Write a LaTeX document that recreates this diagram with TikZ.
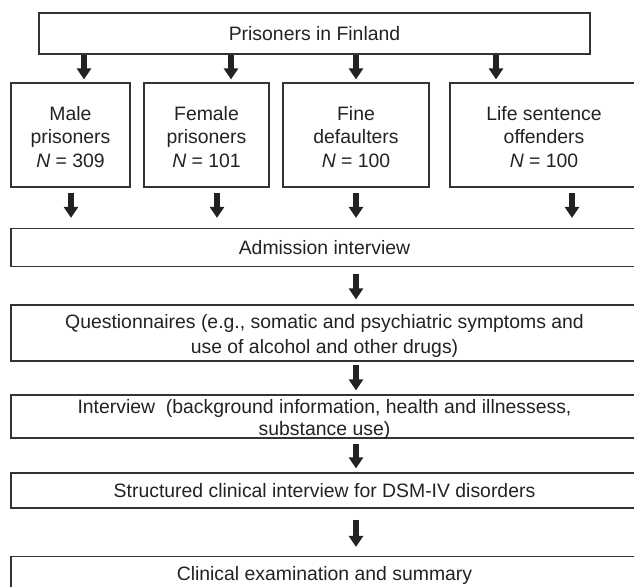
\documentclass[tikz,border=0pt]{standalone}
\usepackage{fontspec}
\setmainfont{Liberation Sans}
\usetikzlibrary{arrows.meta}
\definecolor{ink}{HTML}{222222}
\definecolor{edge}{HTML}{333333}
\begin{document}
\begin{tikzpicture}[x=1pt,y=-1pt,
  box/.style={draw=edge,line width=1.2pt,inner sep=0pt,align=center,text=ink,
    font=\fontsize{19.4}{23.5}\selectfont},
  txt/.style={inner sep=0pt,align=center,text=ink,font=\fontsize{19.4}{23.5}\selectfont},
  arr/.style={draw=ink,line width=6pt,-{Triangle[length=11pt,width=14pt]}}]
\useasboundingbox (0,0) rectangle (634,586);
% boxes
\node[box,minimum width=551,minimum height=41] (top) at (314.5,33.5) {Prisoners in Finland};
\node[box,minimum width=119,minimum height=104,
  label={[txt,yshift=-2pt]center:{Male\\prisoners\\\textit{N} = 309}}] (male) at (70.5,135) {};
\node[box,minimum width=125,minimum height=104,
  label={[txt,yshift=-2pt]center:{Female\\prisoners\\\textit{N} = 101}}] (female) at (206.5,135) {};
\node[box,minimum width=146,minimum height=104,
  label={[txt,yshift=-2pt]center:{Fine\\defaulters\\\textit{N} = 100}}] (fine) at (356,135) {};
\node[box,minimum width=188,minimum height=104,
  label={[txt,yshift=-2pt]center:{Life sentence\\offenders\\\textit{N} = 100}}] (life) at (544,135) {};
\node[box,minimum width=627,minimum height=38] (adm) at (324.5,247.5) {Admission interview};
\node[box,minimum width=627,minimum height=56,
  label={[txt,yshift=-3pt,font=\fontsize{19.4}{24.5}\selectfont]center:{Questionnaires (e.g., somatic and psychiatric symptoms and\\use of alcohol and other drugs)}}] (quest) at (324.5,333) {};
\node[box,minimum width=627,minimum height=43,
  label={[txt,yshift=-3pt,font=\fontsize{19.4}{21.5}\selectfont]center:{Interview\ \ (background information, health and illnessess,\\substance use)}}] (intv) at (324.5,416.5) {};
\node[box,minimum width=627,minimum height=35] (struct) at (324.5,490.5) {Structured clinical interview for DSM-IV disorders};
\node[box,minimum width=627,minimum height=38] (clin) at (324.5,575.5) {Clinical examination and summary};
% arrow columns
\coordinate (ta) at (84,0);
\coordinate (tb) at (231,0);
\coordinate (tc) at (356,0);
\coordinate (td) at (496,0);
\coordinate (ba) at (71,0);
\coordinate (bb) at (217,0);
\coordinate (bc) at (356,0);
\coordinate (bd) at (572,0);
\coordinate (mid) at (356,0);
% top arrows
\draw[arr,shorten >=3pt] (top.south -| ta) -- (male.north -| ta);
\draw[arr,shorten >=3pt] (top.south -| tb) -- (female.north -| tb);
\draw[arr,shorten >=3pt] (top.south -| tc) -- (fine.north -| tc);
\draw[arr,shorten >=3pt] (top.south -| td) -- (life.north -| td);
% second row arrows
\draw[arr,shorten <=5pt,shorten >=10pt] (male.south -| ba) -- (adm.north -| ba);
\draw[arr,shorten <=5pt,shorten >=10pt] (female.south -| bb) -- (adm.north -| bb);
\draw[arr,shorten <=5pt,shorten >=10pt] (fine.south -| bc) -- (adm.north -| bc);
\draw[arr,shorten <=5pt,shorten >=10pt] (life.south -| bd) -- (adm.north -| bd);
% central column
\draw[arr,shorten <=7pt,shorten >=5pt] (adm.south -| mid) -- (quest.north -| mid);
\draw[arr,shorten <=3pt,shorten >=4pt] (quest.south -| mid) -- (intv.north -| mid);
\draw[arr,shorten <=5pt,shorten >=4pt] (intv.south -| mid) -- (struct.north -| mid);
\draw[arr,shorten <=11pt,shorten >=9pt] (struct.south -| mid) -- (clin.north -| mid);
\end{tikzpicture}
\end{document}
